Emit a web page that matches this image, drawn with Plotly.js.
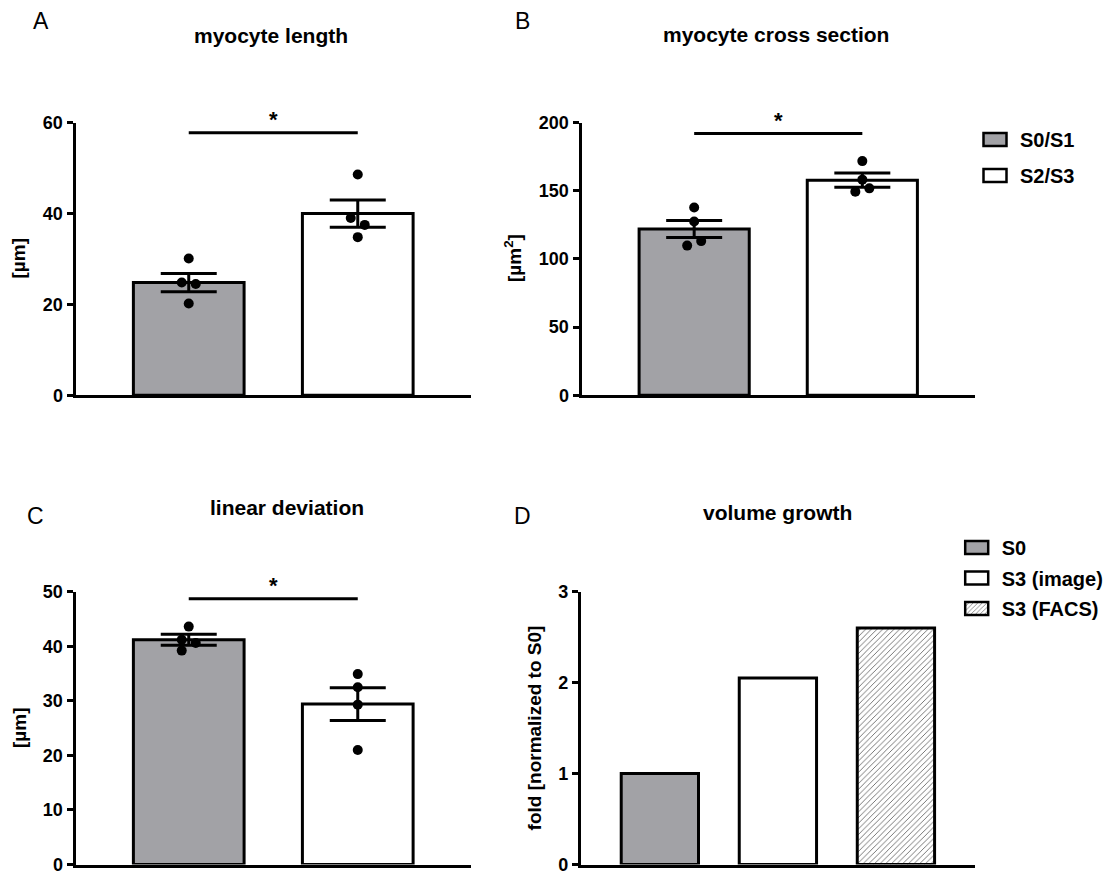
<!DOCTYPE html>
<html>
<head>
<meta charset="utf-8">
<script src="https://cdn.plot.ly/plotly-3.0.1.min.js"></script>
<style>
  html, body { margin: 0; padding: 0; background: #ffffff; }
  #chart { width: 1118px; height: 873px; }
</style>
</head>
<body>
<div id="chart"></div>
<script>
// ---- data -------------------------------------------------------------
const stageGroups = ['S0/S1', 'S2/S3'];

const lengthMean = [24.8, 40.0];
const lengthSem = [2.0, 3.0];
const lengthPoints = [[30.1, 24.8, 24.5, 20.2], [48.6, 39.0, 37.5, 34.8]];
const lengthTicks = [0, 20, 40, 60];

const crossMean = [122.0, 157.8];
const crossSem = [6.3, 5.2];
const crossPoints = [[137.7, 127.5, 109.8, 113.1], [171.8, 158.2, 149.4, 151.8]];
const crossTicks = [0, 50, 100, 150, 200];

const deviationMean = [41.2, 29.4];
const deviationSem = [1.0, 3.0];
const deviationPoints = [[43.6, 41.2, 40.6, 39.2], [34.9, 32.5, 29.3, 21.0]];
const deviationTicks = [0, 10, 20, 30, 40, 50];

const volumeGroups = ['S0', 'S3 (image)', 'S3 (FACS)'];
const volumeFold = [1.0, 2.05, 2.6];
const volumeTicks = [0, 1, 2, 3];

// ---- styling / layout -------------------------------------------------
const W = 1118, H = 873;
const FONT = '"Liberation Sans", Arial, Helvetica, sans-serif';
const GREY = '#a2a2a6';
const LW = 3;            // axis / outline thickness
const BAR_W = 0.655;     // bar width in category units
const DOT = 10;          // replicate dot diameter
const SWARM_STEP = 7;    // sideways step for overlapping dots (px)
const SWARM_GAP = 8.2;   // dots closer than this (px) get spread

const panels = [
  { letter: 'A', title: 'myocyte length', yTitle: '[µm]',
    groups: stageGroups, mean: lengthMean, sem: lengthSem, points: lengthPoints,
    ticks: lengthTicks, fills: [GREY, '#ffffff'], hatch: [false, false],
    xPx: [74, 471], yPx: [122.7, 396.7], xRange: [-0.67, 1.67],
    bracketY: 57.8, titlePos: [270.5, 36], letterPos: [41, 21], yTitlePos: [18, 258.5],
    legend: null },
  { letter: 'B', title: 'myocyte cross section', yTitle: '[µm<sup>2</sup>]',
    groups: stageGroups, mean: crossMean, sem: crossSem, points: crossPoints,
    ticks: crossTicks, fills: [GREY, '#ffffff'], hatch: [false, false],
    xPx: [580, 975], yPx: [122.7, 396.7], xRange: [-0.67, 1.67],
    bracketY: 192, titlePos: [775.5, 35], letterPos: [522, 21], yTitlePos: [513, 258],
    legend: 'legend' },
  { letter: 'C', title: 'linear deviation', yTitle: '[µm]',
    groups: stageGroups, mean: deviationMean, sem: deviationSem, points: deviationPoints,
    ticks: deviationTicks, fills: [GREY, '#ffffff'], hatch: [false, false],
    xPx: [74, 471], yPx: [591.7, 866], xRange: [-0.67, 1.67],
    bracketY: 48.7, titlePos: [287, 507], letterPos: [35, 515.5], yTitlePos: [19, 728],
    legend: null },
  { letter: 'D', title: 'volume growth', yTitle: 'fold [normalized to S0]',
    groups: volumeGroups, mean: volumeFold, sem: null, points: null,
    ticks: volumeTicks, fills: [GREY, '#ffffff', '#ffffff'], hatch: [false, false, true],
    xPx: [579.3, 975], yPx: [591.7, 866], xRange: [-0.67, 2.67],
    bracketY: null, titlePos: [777.5, 512], letterPos: [522.5, 515.5], yTitlePos: [534, 728.4],
    legend: 'legend2' }
];

// Spread replicate dots that would overlap: dots whose values sit within
// SWARM_GAP pixels of each other form a run and zig-zag left/right.
function swarmOffsets(values, pxPerUnit) {
  const order = values.map((v, i) => i).sort((a, b) => values[b] - values[a]);
  const offsets = values.map(() => 0);
  let run = [order[0]];
  const flush = () => {
    if (run.length > 1) {
      run.slice().sort((a, b) => a - b).forEach((idx, k) => {
        offsets[idx] = (k % 2 === 0 ? -1 : 1) * SWARM_STEP;
      });
    }
  };
  for (let k = 1; k < order.length; k++) {
    const prev = order[k - 1], cur = order[k];
    if ((values[prev] - values[cur]) * pxPerUnit < SWARM_GAP) {
      run.push(cur);
    } else {
      flush();
      run = [cur];
    }
  }
  flush();
  return offsets;
}

const boldFont = (size) => ({ family: FONT, size: size, color: '#000000', weight: 'bold' });

const traces = [];
const layout = {
  width: W, height: H,
  margin: { l: 0, r: 0, t: 0, b: 0, pad: 0 },
  paper_bgcolor: '#ffffff', plot_bgcolor: 'rgba(0,0,0,0)',
  barmode: 'overlay',
  showlegend: true,
  font: { family: FONT, color: '#000000' },
  annotations: [],
  shapes: [],
  legend: {
    x: 970 / W, y: 1 - 120 / H, xanchor: 'left', yanchor: 'top',
    font: boldFont(20), itemwidth: 40, tracegroupgap: 7,
    bgcolor: 'rgba(0,0,0,0)', borderwidth: 0, itemclick: false, itemdoubleclick: false
  },
  legend2: {
    x: 951.7 / W, y: 1 - 528 / H, xanchor: 'left', yanchor: 'top',
    font: boldFont(20), itemwidth: 40, tracegroupgap: 1.5,
    bgcolor: 'rgba(0,0,0,0)', borderwidth: 0, itemclick: false, itemdoubleclick: false
  }
};

panels.forEach((p, n) => {
  const sfx = n === 0 ? '' : String(n + 1);
  const xa = 'x' + sfx, ya = 'y' + sfx;
  const yMax = p.ticks[p.ticks.length - 1];

  // axis lines are drawn half a line width outside the domain
  const left = p.xPx[0] + LW / 2, right = p.xPx[1];
  const top = p.yPx[0], bottom = p.yPx[1] - LW / 2;
  const pxPerX = (right - left) / (p.xRange[1] - p.xRange[0]);
  const pxPerY = (bottom - top) / yMax;

  layout['xaxis' + sfx] = {
    domain: [left / W, right / W], anchor: ya, range: p.xRange,
    showline: true, linewidth: LW, linecolor: '#000000',
    ticks: '', showticklabels: false, showgrid: false, zeroline: false, fixedrange: true
  };
  layout['yaxis' + sfx] = {
    domain: [1 - bottom / H, 1 - top / H], anchor: xa, range: [0, yMax],
    tickmode: 'array', tickvals: p.ticks, ticktext: p.ticks.map(String),
    ticks: 'outside', ticklen: 6, tickwidth: LW, tickcolor: '#000000',
    ticklabeloverflow: 'allow',
    showline: true, linewidth: LW, linecolor: '#000000',
    showgrid: false, zeroline: false, fixedrange: true,
    tickfont: boldFont(18)
  };

  p.groups.forEach((g, i) => {
    const marker = { color: p.fills[i], line: { color: '#000000', width: LW } };
    if (p.hatch[i]) {
      marker.pattern = { shape: '/', size: 4, solidity: 0.22, fgcolor: '#666666', bgcolor: '#ffffff', fillmode: 'replace' };
    }
    const bar = {
      type: 'bar', x: [i], y: [p.mean[i]], width: BAR_W, name: g,
      xaxis: xa, yaxis: ya, marker: marker, hoverinfo: 'skip',
      showlegend: !!p.legend, legendgroup: p.letter + i
    };
    if (p.legend) bar.legend = p.legend;
    if (p.sem) {
      bar.error_y = { type: 'data', array: [p.sem[i]], visible: true,
                      color: '#000000', thickness: LW, width: 28 };
    }
    traces.push(bar);
  });

  if (p.points) {
    p.points.forEach((vals, i) => {
      const offs = swarmOffsets(vals, pxPerY);
      traces.push({
        type: 'scatter', mode: 'markers',
        x: offs.map(o => i + o / pxPerX), y: vals,
        xaxis: xa, yaxis: ya, cliponaxis: false, showlegend: false, hoverinfo: 'skip',
        marker: { size: DOT, color: '#000000', line: { width: 0 } }
      });
    });
  }

  if (p.bracketY !== null) {
    layout.shapes.push({
      type: 'line', xref: xa, yref: ya, x0: 0, x1: 1, y0: p.bracketY, y1: p.bracketY,
      line: { color: '#000000', width: LW }
    });
    layout.annotations.push({
      xref: xa, yref: ya, x: 0.5, y: p.bracketY, text: '*', showarrow: false,
      xanchor: 'center', yanchor: 'middle', yshift: 13, font: boldFont(22)
    });
  }

  layout.annotations.push({
    xref: 'paper', yref: 'paper', x: p.titlePos[0] / W, y: 1 - p.titlePos[1] / H,
    text: p.title, showarrow: false, xanchor: 'center', yanchor: 'middle', font: boldFont(21)
  });
  layout.annotations.push({
    xref: 'paper', yref: 'paper', x: p.letterPos[0] / W, y: 1 - p.letterPos[1] / H,
    text: p.letter, showarrow: false, xanchor: 'center', yanchor: 'middle',
    font: { family: FONT, size: 23, color: '#000000' }
  });
  layout.annotations.push({
    xref: 'paper', yref: 'paper', x: p.yTitlePos[0] / W, y: 1 - p.yTitlePos[1] / H,
    text: p.yTitle, showarrow: false, textangle: -90, xanchor: 'center', yanchor: 'middle',
    font: boldFont(19)
  });
});

// legend swatches drawn as wide boxes
function widenSwatches() {
  document.querySelectorAll('#chart .legendpoints path').forEach(el => {
    el.setAttribute('d', 'M11.5,6.5H-11.5V-6.5H11.5Z');
    el.style.strokeWidth = '2.5px';
  });
}

const gd = document.getElementById('chart');
Plotly.newPlot(gd, traces, layout, { staticPlot: true, displayModeBar: false, responsive: false })
  .then(() => {
    widenSwatches();
    gd.on('plotly_afterplot', widenSwatches);
  });
</script>
</body>
</html>
